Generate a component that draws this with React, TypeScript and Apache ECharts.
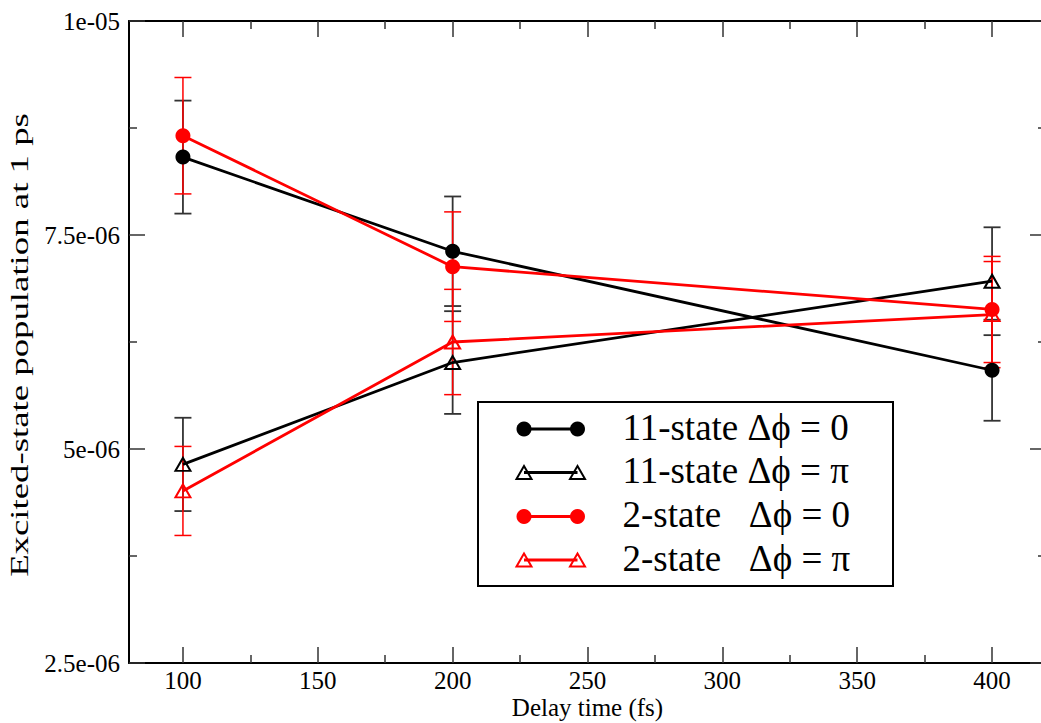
import React, { useEffect, useRef } from "react";
import * as echarts from "echarts";

const xValues = [100, 200, 400];
const blackCircleY = [8.41e-6, 7.31e-6, 5.92e-6];
const blackCircleErr = [0.66e-6, 0.64e-6, 0.59e-6];
const blackTriY = [4.82e-6, 6.01e-6, 6.96e-6];
const blackTriErr = [0.545e-6, 0.6e-6, 0.63e-6];
const redCircleY = [8.66e-6, 7.13e-6, 6.63e-6];
const redCircleErr = [0.68e-6, 0.64e-6, 0.62e-6];
const redTriY = [4.51e-6, 6.25e-6, 6.57e-6];
const redTriErr = [0.52e-6, 0.615e-6, 0.62e-6];

const seriesNames = ["11-state \u0394\u03d5 = 0", "11-state \u0394\u03d5 = \u03c0", "2-state   \u0394\u03d5 = 0", "2-state   \u0394\u03d5 = \u03c0"];
const xMajorTicks = [100, 150, 200, 250, 300, 350, 400];
const xMinorTicks = [125, 175, 225, 275, 325, 375];
const yTickLabels = ["2.5e-06", "5e-06", "7.5e-06", "1e-05"];
const xTitle = "Delay time (fs)";
const yTitle = "Excited-state population at 1 ps";

const FONT = "Liberation Serif";
const RED = "#ff0000";
const BLACK = "#000000";

function errSeries(ys: number[], errs: number[], color: string, width: number) {
  return {
    type: "custom",
    xAxisIndex: 0,
    yAxisIndex: 0,
    data: xValues.map((x, i) => [x, ys[i], errs[i]]),
    encode: { x: 0, y: 1 },
    renderItem: (params: any, api: any) => {
      const x = api.value(0);
      const y = api.value(1);
      const e = api.value(2);
      const top = api.coord([x, y + e]);
      const bot = api.coord([x, y - e]);
      const hw = 8.5;
      const style = { stroke: color, lineWidth: width };
      return {
        type: "group",
        children: [
          { type: "line", shape: { x1: top[0], y1: top[1], x2: bot[0], y2: bot[1] }, style },
          { type: "line", shape: { x1: top[0] - hw, y1: top[1], x2: top[0] + hw, y2: top[1] }, style },
          { type: "line", shape: { x1: bot[0] - hw, y1: bot[1], x2: bot[0] + hw, y2: bot[1] }, style },
        ],
      };
    },
  };
}

function lineSeries(name: string, ys: number[], color: string, tri: boolean) {
  return {
    type: "line",
    name,
    xAxisIndex: 0,
    yAxisIndex: 0,
    data: xValues.map((x, i) => [x, ys[i]]),
    symbol: tri ? "triangle" : "circle",
    symbolSize: tri ? [15, 13] : 15,
    showAllSymbol: true,
    lineStyle: { color, width: 2.8 },
    itemStyle: tri
      ? { color: "rgba(255,255,255,0)", borderColor: color, borderWidth: 2 }
      : { color, borderColor: color, borderWidth: 0 },
  };
}

function xAxisDef(position: string, major: boolean, primary: boolean) {
  return {
    type: "value",
    position,
    min: 80,
    max: 420,
    axisLine: { show: major, onZero: false, lineStyle: { color: BLACK, width: 2 } },
    axisTick: {
      show: true,
      inside: true,
      length: major ? 16 : 8,
      customValues: major ? xMajorTicks : xMinorTicks,
      lineStyle: { color: "#333", width: 1.5 },
    },
    axisLabel: primary
      ? { show: true, customValues: xMajorTicks, fontSize: 25, fontFamily: FONT, color: BLACK, margin: 5 }
      : { show: false },
    splitLine: { show: false },
    ...(primary
      ? {
          name: xTitle,
          nameLocation: "middle",
          nameGap: 32,
          nameMoveOverlap: false,
          nameTextStyle: { fontSize: 25, fontFamily: FONT, color: BLACK },
        }
      : {}),
  };
}

function yAxisDef(position: string, primary: boolean) {
  return {
    type: "value",
    position,
    min: 2.5e-6,
    max: 1e-5,
    interval: 2.5e-6,
    axisLine: { show: true, onZero: false, lineStyle: { color: BLACK, width: 2 } },
    axisTick: { show: true, inside: true, length: 16, lineStyle: { color: "#333", width: 1.5 } },
    minorTick: { show: true, splitNumber: 2, length: 8, lineStyle: { color: "#333", width: 1.5 } },
    axisLabel: primary
      ? {
          show: true,
          fontSize: 25,
          fontFamily: FONT,
          color: BLACK,
          margin: 9,
          formatter: (v: number) => yTickLabels[Math.round(v / 2.5e-6) - 1] ?? "",
        }
      : { show: false },
    splitLine: { show: false },
  };
}

function measure(text: string, font: string) {
  try {
    const ctx = document.createElement("canvas").getContext("2d");
    if (ctx) {
      ctx.font = font;
      return ctx.measureText(text).width;
    }
  } catch (e) {}
  return 363;
}

function graphics() {
  const boxX = 478, boxY = 402, boxW = 415, boxH = 184;
  const rows = [429, 472.5, 516.5, 560];
  const colors = [BLACK, BLACK, RED, RED];
  const tri = [false, true, false, true];
  const children: any[] = [
    { type: "rect", shape: { x: boxX, y: boxY, width: boxW, height: boxH }, style: { fill: "#fff", stroke: BLACK, lineWidth: 2 } },
  ];
  rows.forEach((ry, i) => {
    const c = colors[i];
    children.push({ type: "line", shape: { x1: 524, y1: ry, x2: 577.5, y2: ry }, style: { stroke: c, lineWidth: 2.8 } });
    [524, 577.5].forEach((cx) => {
      if (tri[i]) {
        children.push({
          type: "polygon",
          shape: { points: [[cx, ry - 6.5], [cx + 7.5, ry + 6.5], [cx - 7.5, ry + 6.5]] },
          style: { fill: "rgba(255,255,255,0)", stroke: c, lineWidth: 2 },
        });
      } else {
        children.push({ type: "circle", shape: { cx, cy: ry, r: 7.5 }, style: { fill: c } });
      }
    });
    children.push({
      type: "text",
      x: 622.5,
      y: ry - 2,
      style: { text: seriesNames[i], fontSize: 37, fontFamily: FONT, fill: BLACK, verticalAlign: "middle", align: "left" },
    });
  });
  const yFontSize = 25;
  const w = measure(yTitle, `${yFontSize}px "Liberation Serif"`);
  const stretch = w > 0 ? 464 / w : 1;
  return [
    { type: "group", children, z: 100 },
    {
      type: "text",
      x: 20,
      y: 345,
      rotation: Math.PI / 2,
      scaleX: stretch,
      z: 100,
      style: { text: yTitle, fontSize: yFontSize, fontFamily: FONT, fill: BLACK, align: "center", verticalAlign: "middle" },
    },
  ];
}

export default function App() {
  const ref = useRef<HTMLDivElement>(null);
  useEffect(() => {
    if (!ref.current) return;
    const chart = echarts.init(ref.current, null, { renderer: "svg" });
    chart.setOption({
      animation: false,
      backgroundColor: "#ffffff",
      textStyle: { fontFamily: FONT },
      grid: { left: 129, right: -5, top: 21, bottom: 60, containLabel: false, outerBoundsMode: "none" },
      xAxis: [
        xAxisDef("bottom", true, true),
        xAxisDef("bottom", false, false),
        xAxisDef("top", true, false),
        xAxisDef("top", false, false),
      ],
      yAxis: [yAxisDef("left", true), yAxisDef("right", false)],
      series: [
        lineSeries(seriesNames[0], blackCircleY, BLACK, false),
        errSeries(blackCircleY, blackCircleErr, "#333", 1.8),
        lineSeries(seriesNames[1], blackTriY, BLACK, true),
        errSeries(blackTriY, blackTriErr, "#333", 1.8),
        lineSeries(seriesNames[2], redCircleY, RED, false),
        errSeries(redCircleY, redCircleErr, RED, 1.5),
        lineSeries(seriesNames[3], redTriY, RED, true),
        errSeries(redTriY, redTriErr, RED, 1.5),
      ],
      graphic: graphics(),
    });
    return () => chart.dispose();
  }, []);
  return (
    <div
      ref={ref}
      style={{ position: "fixed", left: 0, top: 0, width: 1041, height: 723, background: "#fff" }}
    />
  );
}
